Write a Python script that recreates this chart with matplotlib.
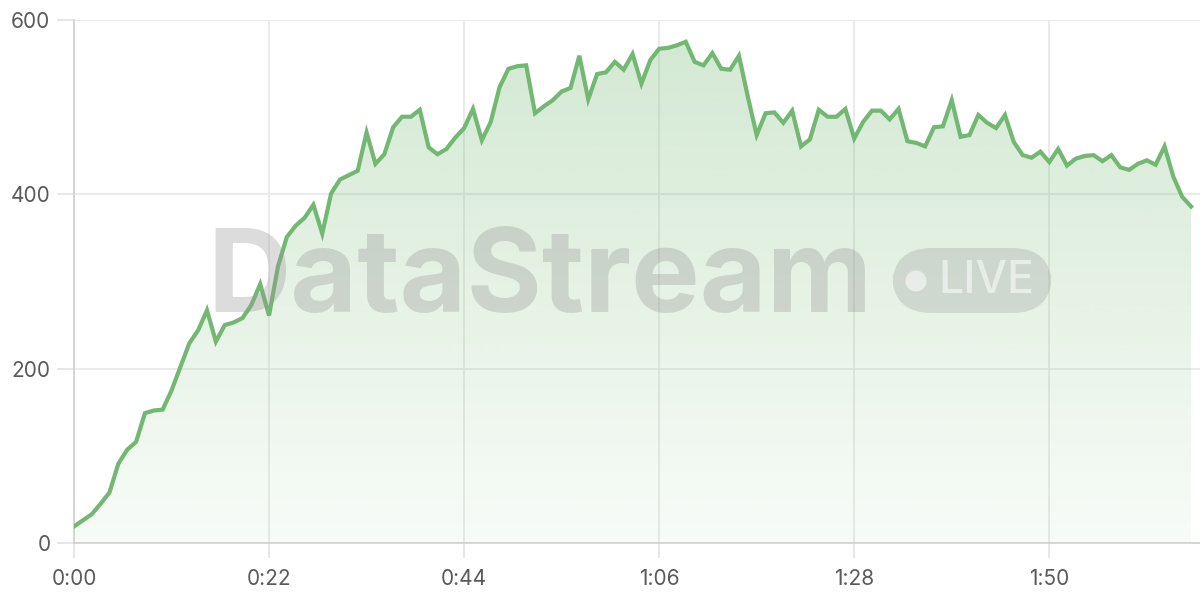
import numpy as np
import matplotlib
matplotlib.use("Agg")
import matplotlib.pyplot as plt
from matplotlib.patches import Polygon, FancyBboxPatch, Ellipse
from matplotlib.ticker import FuncFormatter

# seconds since start, one sample per second
seconds = np.arange(0, 127)
values = [
    19, 26, 33, 45, 58, 91, 107, 116, 149, 152,
    153, 175, 202, 229, 244, 267, 231, 250, 253, 258,
    273, 297, 261, 317, 351, 364, 373, 388, 355, 401,
    417, 422, 427, 471, 435, 446, 477, 489, 489, 497,
    454, 446, 452, 465, 476, 498, 462, 483, 523, 544,
    547, 548, 493, 501, 508, 518, 522, 559, 509, 538,
    540, 552, 543, 561, 527, 554, 567, 568, 571, 575,
    552, 548, 562, 544, 543, 559, 512, 468, 493, 494,
    482, 496, 455, 463, 497, 489, 489, 498, 464, 483,
    496, 496, 486, 498, 461, 459, 455, 477, 478, 508,
    466, 468, 491, 482, 476, 491, 460, 445, 442, 449,
    437, 452, 433, 441, 444, 445, 438, 445, 431, 428,
    435, 439, 434, 455, 420, 397, 386,
]
x_ticks = [0, 22, 44, 66, 88, 110]
y_ticks = [0, 200, 400, 600]

line_color = "#72b872"
label_color = "#5a5a5a"

fig = plt.figure(figsize=(12, 6), dpi=100)
ax = fig.add_axes([74 / 1200, 57 / 600, 1126 / 1200, 523 / 600])
ax.set_xlim(0, 127)
ax.set_ylim(0, 600)

# grid + axes styling
ax.set_xticks(x_ticks)
ax.set_yticks(y_ticks)
ax.xaxis.set_major_formatter(FuncFormatter(lambda s, p: "%d:%02d" % (int(s) // 60, int(s) % 60)))
ax.grid(True, color="#e8e8e8", linewidth=1.2, zorder=0)
ax.set_axisbelow(True)
for side in ["top", "right"]:
    ax.spines[side].set_visible(False)
for side in ["left", "bottom"]:
    ax.spines[side].set_color("#cfcfcf")
    ax.spines[side].set_linewidth(1.2)
ax.tick_params(axis="both", colors="#e3e3e3", labelcolor=label_color, labelsize=15, width=1.2)
ax.tick_params(axis="y", length=12, pad=5)
ax.tick_params(axis="x", length=11, pad=8)
for lbl in ax.get_xticklabels() + ax.get_yticklabels():
    lbl.set_family("Inter")

# gradient fill under the line
verts = [(seconds[0], 0)] + list(zip(seconds, values)) + [(seconds[-1], 0)]
poly = Polygon(verts, facecolor="none", edgecolor="none")
ax.add_patch(poly)
grad = np.zeros((256, 1, 4))
rgb = matplotlib.colors.to_rgb(line_color)
grad[:, 0, 0] = rgb[0]
grad[:, 0, 1] = rgb[1]
grad[:, 0, 2] = rgb[2]
grad[:, 0, 3] = np.linspace(0.32, 0.05, 256)
im = ax.imshow(grad, aspect="auto", extent=[0, 127, 0, 600], origin="upper", zorder=1)
im.set_clip_path(poly)

ax.plot(seconds, values, color=line_color, linewidth=3, zorder=4, solid_joinstyle="miter")

# watermark
fig.text(540 / 1200, 1 - 282 / 600, "DataStream", family="Inter", fontweight="bold",
         fontsize=83, color=(0.59, 0.59, 0.59, 0.33), ha="center", va="center", zorder=3)
box = FancyBboxPatch((892 / 1200, 1 - 313 / 600), 160 / 1200, 65 / 600,
                     boxstyle="round,pad=0,rounding_size=0.033", transform=fig.transFigure,
                     facecolor=(0.59, 0.59, 0.59, 0.28), edgecolor="none", zorder=3,
                     mutation_aspect=2)
fig.patches.append(box)
fig.patches.append(Ellipse((916 / 1200, 1 - 281 / 600), 21 / 1200, 21 / 600, transform=fig.transFigure,
                           facecolor=(1, 1, 1, 0.55), edgecolor="none", zorder=3))
fig.text(986 / 1200, 1 - 281 / 600, "LIVE", family="Inter", fontsize=32, fontweight="medium",
         color=(1, 1, 1, 0.55), ha="center", va="center", zorder=3)

fig.savefig("out.png", dpi=100)
